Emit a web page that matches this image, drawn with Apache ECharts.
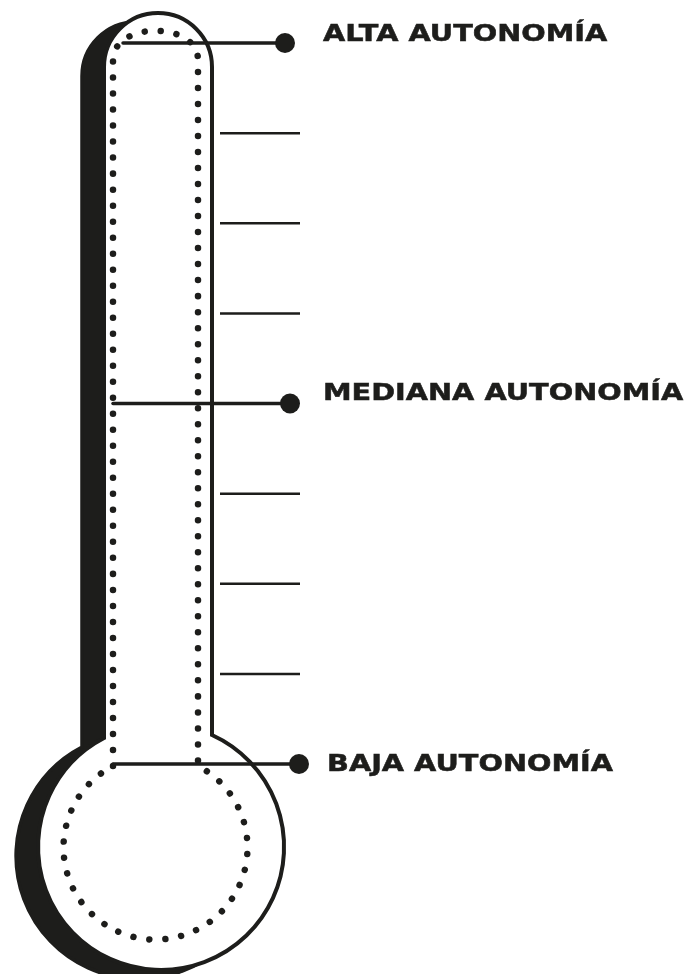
<!DOCTYPE html>
<html>
<head>
<meta charset="utf-8">
<title>Termómetro de autonomía</title>
<script src="https://cdn.jsdelivr.net/npm/echarts@6/dist/echarts.min.js"></script>
<style>
  html, body { margin: 0; padding: 0; background: #fff; }
  #chart { width: 696px; height: 974px; }
</style>
</head>
<body>
<div id="chart"></div>
<script>
// niveles de la escala (0 = baja, 8 = alta)
const levelNames = ['BAJA AUTONOMÍA', 'MEDIANA AUTONOMÍA', 'ALTA AUTONOMÍA'];
const levelValues = [0, 4, 8];
// marcas intermedias de la escala
const tickValues = [1, 2, 3, 5, 6, 7];

const INK = '#1d1d1b';
const FONT = 'bold 23px "DejaVu Sans"';

// donde caen los niveles en la lámina
const LEVEL_TOP_PX = 43;
const LEVEL_BOTTOM_PX = 764;
const PX_PER_UNIT = (LEVEL_BOTTOM_PX - LEVEL_TOP_PX) / 8;

// ajustes finos de cada etiqueta (baja, mediana, alta)
const lineStartX = [113, 113, 123];
const markerX = [299, 290, 285];
const labelX = [327, 323, 323];
const labelDy = [1.5, -9.5, -8];

const chart = echarts.init(document.getElementById('chart'));

// contorno del termómetro: tubo + bulbo
const bodyPath = 'M104,738 L104,67 A54,54 0 0,1 212,67 L212,735 A123,123 0 1,1 104,738 Z';
// línea punteada interior
const dotPath = 'M113,766 L113,60 C113,21 198,21 198,60 L198,766 A92,92 0 1,1 113,766 Z';

chart.setOption({
  animation: false,
  grid: { left: 0, right: 0, top: 0, bottom: 0 },
  xAxis: { type: 'value', min: 0, max: 696, show: false },
  yAxis: {
    type: 'value',
    min: -(974 - LEVEL_BOTTOM_PX) / PX_PER_UNIT,
    max: 8 + LEVEL_TOP_PX / PX_PER_UNIT,
    show: false,
  },
  series: [
    {
      // cuerpo del termómetro con su sombra
      type: 'custom',
      z: 1,
      silent: true,
      data: [[0]],
      renderItem() {
        return {
          type: 'group',
          children: [
            {
              type: 'path',
              x: -22,
              y: 9,
              shape: { pathData: bodyPath },
              style: { fill: INK, stroke: INK, lineWidth: 3.5 },
            },
            {
              type: 'path',
              shape: { pathData: bodyPath },
              style: { fill: '#fff', stroke: INK, lineWidth: 4 },
            },
            {
              type: 'path',
              shape: { pathData: dotPath },
              style: {
                fill: 'none',
                stroke: INK,
                lineWidth: 6.5,
                lineCap: 'round',
                lineDash: [0.01, 16],
              },
            },
          ],
        };
      },
    },
    {
      // marcas de la escala
      type: 'custom',
      z: 10,
      data: tickValues.map((v) => [v]),
      renderItem(params, api) {
        const y = api.coord([0, api.value(0)])[1];
        return {
          type: 'line',
          shape: { x1: 220, y1: y, x2: 300, y2: y },
          style: { stroke: INK, lineWidth: 2.5 },
        };
      },
    },
    {
      // niveles con su punto y su texto
      type: 'custom',
      z: 11,
      data: levelValues.map((v, i) => [v, levelNames[i]]),
      renderItem(params, api) {
        const i = params.dataIndex;
        const y = api.coord([0, api.value(0)])[1];
        return {
          type: 'group',
          children: [
            {
              type: 'line',
              shape: { x1: lineStartX[i], y1: y, x2: markerX[i], y2: y },
              style: { stroke: INK, lineWidth: 3.5, lineCap: 'round' },
            },
            {
              type: 'circle',
              shape: { cx: markerX[i], cy: y, r: 10 },
              style: { fill: INK },
            },
            {
              type: 'text',
              x: labelX[i],
              y: y + labelDy[i],
              scaleX: 1.25,
              style: {
                text: levelNames[i],
                x: 0,
                y: 0,
                font: FONT,
                fill: INK,
                stroke: INK,
                lineWidth: 0.5,
                verticalAlign: 'middle',
                align: 'left',
              },
            },
          ],
        };
      },
    },
  ],
});
</script>
</body>
</html>
